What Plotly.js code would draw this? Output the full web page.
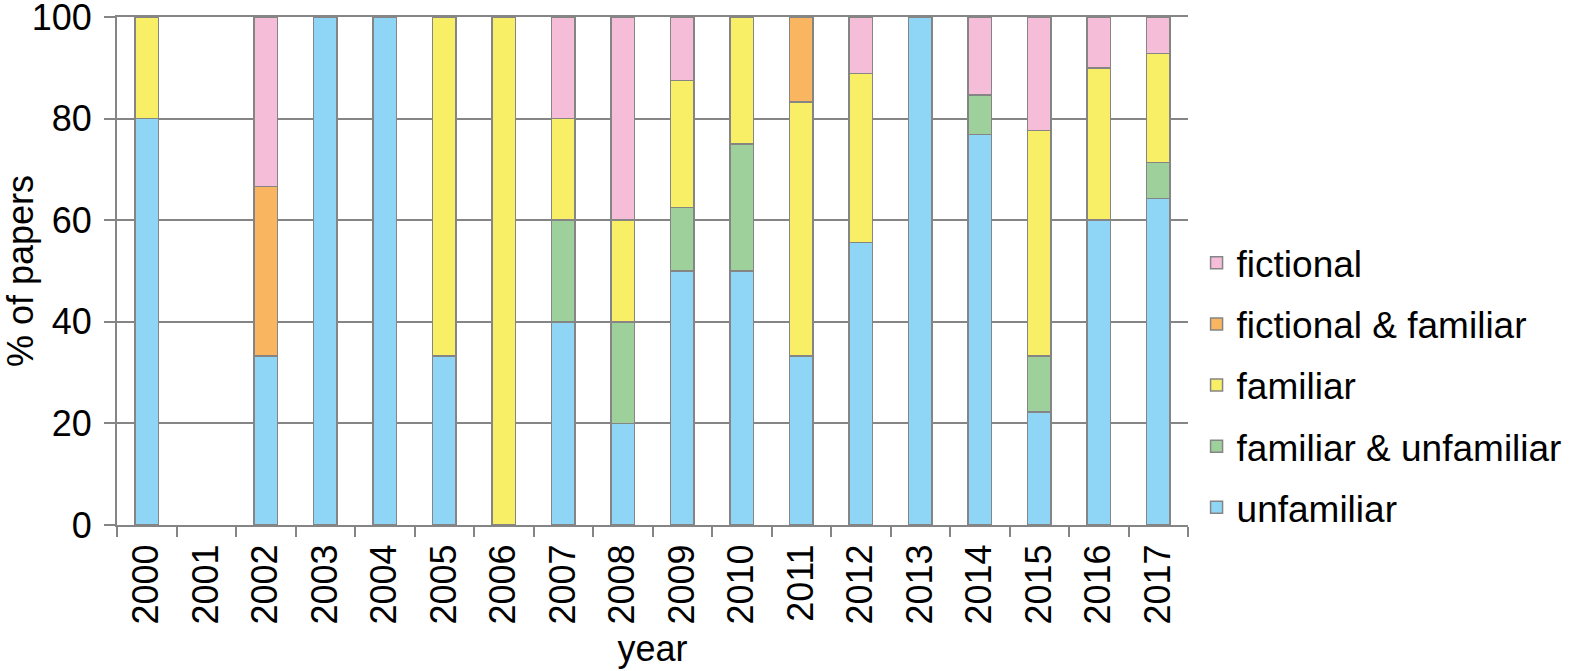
<!DOCTYPE html>
<html>
<head>
<meta charset="utf-8">
<script src="https://cdn.plot.ly/plotly-3.0.1.min.js"></script>
<style>html,body{margin:0;padding:0;background:#fff;}#chart{width:1596px;height:671px;}</style>
</head>
<body>
<div id="chart"></div>
<script>
const years = ["2000","2001","2002","2003","2004","2005","2006","2007","2008","2009","2010","2011","2012","2013","2014","2015","2016","2017"];
const unfamiliar          = [80, null, 33.3, 100, 100, 33.3, null, 40, 20, 50, 50, 33.3, 55.6, 100, 76.9, 22.2, 60, 64.3];
const familiarUnfamiliar  = [null, null, null, null, null, null, null, 20, 20, 12.5, 25, null, null, null, 7.7, 11.1, null, 7.1];
const familiar            = [20, null, null, null, null, 66.7, 100, 20, 20, 25, 25, 50, 33.3, null, null, 44.4, 30, 21.4];
const fictionalFamiliar   = [null, null, 33.3, null, null, null, null, null, null, null, null, 16.7, null, null, null, null, null, null];
const fictional           = [null, null, 33.4, null, null, null, null, 20, 40, 12.5, null, null, 11.1, null, 15.4, 22.3, 10, 7.2];

const seriesNames  = ["unfamiliar", "familiar & unfamiliar", "familiar", "fictional & familiar", "fictional"];
const seriesValues = [unfamiliar, familiarUnfamiliar, familiar, fictionalFamiliar, fictional];
const seriesColors = ["#8fd6f6", "#9dd09a", "#f8ef66", "#f9b55f", "#f6bdd9"];
const yTicks = [0, 20, 40, 60, 80, 100];

const grey = "#858585";
const traces = seriesNames.map((name, i) => ({
  type: "bar",
  name: name,
  x: years,
  y: seriesValues[i],
  legendgroup: "g" + i,
  legendrank: 1000 - i,
  marker: { color: seriesColors[i], line: { color: grey, width: 1.5 } },
  hoverinfo: "x+y+name"
}));

const fontFam = "Liberation Sans, Arial, Helvetica, sans-serif";
const layout = {
  width: 1596, height: 671,
  margin: { l: 117, r: 408, t: 17, b: 146 },
  paper_bgcolor: "#ffffff", plot_bgcolor: "#ffffff",
  barmode: "stack",
  bargap: 0.6,
  font: { family: fontFam, size: 36, color: "#000" },
  xaxis: {
    type: "category",
    tickson: "boundaries",
    ticks: "outside", ticklen: 10, tickwidth: 2, tickcolor: grey,
    showline: true, linecolor: grey, linewidth: 2,
    mirror: true,
    showgrid: false,
    tickangle: -90,
    ticklabelstandoff: 3,
    tickfont: { size: 36 },
    title: { text: "year", font: { size: 36 }, standoff: 12 },
    automargin: false
  },
  yaxis: {
    range: [0, 100],
    tickmode: "array", tickvals: yTicks, ticktext: yTicks.map(String),
    ticks: "outside", ticklen: 11, tickwidth: 2, tickcolor: grey,
    ticklabelstandoff: 5,
    ticklabeloverflow: "allow",
    showline: true, linecolor: grey, linewidth: 2,
    showgrid: true, gridcolor: grey, gridwidth: 2,
    zeroline: false,
    tickfont: { size: 36 },
    title: { text: "% of papers", font: { size: 36 }, standoff: 18 },
    automargin: false
  },
  showlegend: true,
  legend: {
    x: 1.008, xanchor: "left",
    y: 0.275, yanchor: "middle",
    traceorder: "grouped",
    tracegroupgap: 10,
    font: { size: 37 },
    bgcolor: "rgba(0,0,0,0)"
  }
};

Plotly.newPlot("chart", traces, layout, { displayModeBar: false, staticPlot: true });
</script>
</body>
</html>
